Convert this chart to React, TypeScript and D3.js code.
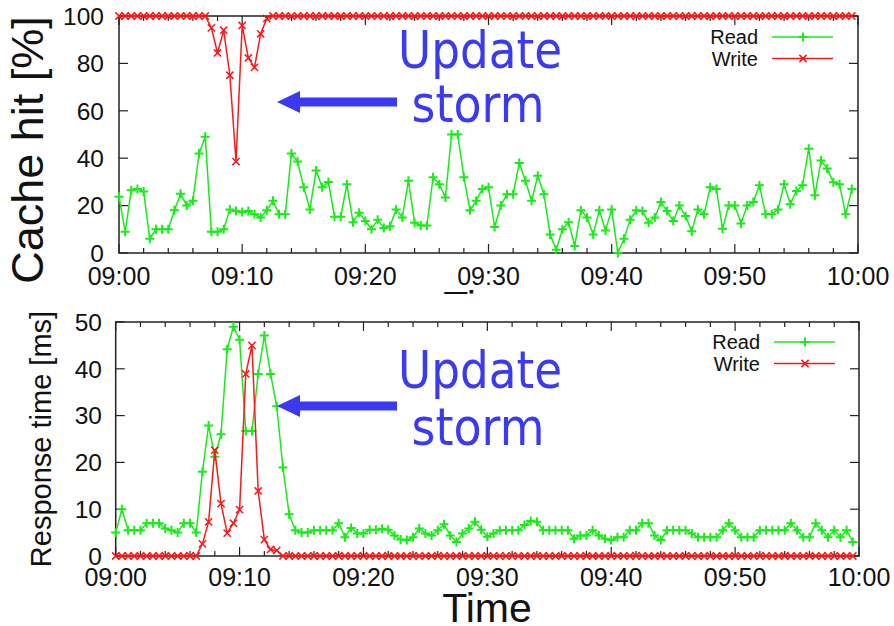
import React from "react";
import * as d3 from "d3";

const readHit = [
  23.7, 9, 26.5, 27, 26, 6, 10, 10, 10, 18,
  25, 20, 22, 42, 49, 9, 9, 10, 18.4, 17.7,
  17.3, 17.7, 16.3, 15, 18, 22, 16.3, 16.3, 42, 38.6,
  27.7, 18.4, 34.8, 27.7, 30, 15.3, 15.3, 29, 13, 17,
  13.5, 10, 14, 10.6, 11.3, 18.4, 15, 30.5, 12.8, 11.6,
  11.6, 32, 29, 23.4, 50, 50, 32, 18, 22, 27,
  27.7, 11, 20, 24.8, 24.8, 38, 30.5, 22, 32.6, 24.8,
  7.8, 1.4, 10, 13, 3, 18, 15, 7.8, 18, 9.5,
  18.4, 0, 6, 14, 18, 17.7, 12.8, 15, 21.5, 17.7,
  13.5, 20, 15.6, 9.2, 18.4, 16.3, 27.7, 27, 10.2, 20,
  20, 12.5, 20, 21.5, 28.6, 16.3, 16.3, 18.4, 29, 20.6,
  26.2, 28.6, 44, 24.4, 39, 35.7, 29.8, 29, 16.3, 27,
];

const writeHit = [
  100, 100, 100, 100, 100, 100, 100, 100, 100, 100,
  100, 100, 100, 100, 100, 95, 84.4, 94, 75, 38.6,
  96, 82.3, 78.3, 92.5, 99, 100, 100, 100, 100, 100,
  100, 100, 100, 100, 100, 100, 100, 100, 100, 100,
  100, 100, 100, 100, 100, 100, 100, 100, 100, 100,
  100, 100, 100, 100, 100, 100, 100, 100, 100, 100,
  100, 100, 100, 100, 100, 100, 100, 100, 100, 100,
  100, 100, 100, 100, 100, 100, 100, 100, 100, 100,
  100, 100, 100, 100, 100, 100, 100, 100, 100, 100,
  100, 100, 100, 100, 100, 100, 100, 100, 100, 100,
  100, 100, 100, 100, 100, 100, 100, 100, 100, 100,
  100, 100, 100, 100, 100, 100, 100, 100, 100, 100,
];

const readResp = [
  5, 10, 5.5, 5.5, 5.5, 7, 7, 7, 5.9, 5.5,
  5, 7, 7, 5, 18, 27.9, 21.2, 26, 44.2, 49,
  46.2, 26.7, 26.7, 38.9, 47.1, 38.9, 32, 18.9, 8.9, 5.5,
  5, 5, 5.5, 5.5, 5.5, 5.5, 7, 4, 6, 4.8,
  4.8, 5.6, 5.6, 5.8, 5.6, 4.4, 3.5, 3.4, 4, 5.9,
  4.8, 4.4, 5.5, 6.8, 4.4, 3, 4.8, 5.9, 7.3, 5.6,
  4.1, 4.8, 5.5, 5.5, 5.5, 5.5, 6.6, 7.5, 7.3, 5.5,
  5.5, 5.5, 5.5, 5.5, 3.7, 4.4, 4.4, 5.5, 4.4, 3.7,
  3.4, 4, 4, 5.5, 5.5, 7, 7, 4.4, 3.4, 5.5,
  5.5, 5.5, 5.5, 4.8, 4, 4, 4, 4, 5.5, 7,
  5.5, 4, 4, 4, 5.5, 5.5, 5.5, 5.5, 5.5, 7,
  5.5, 4, 4, 7, 5.5, 4, 5.5, 4, 5.5, 3,
];

const writeResp = [
  0, 0, 0, 0, 0, 0, 0, 0, 0, 0,
  0, 0, 0, 0, 2.6, 7.3, 22.6, 11.2, 4.9, 7,
  9.9, 38.9, 45, 13.9, 3.5, 1.4, 1.2, 0, 0, 0,
  0, 0, 0, 0, 0, 0, 0, 0, 0, 0,
  0, 0, 0, 0, 0, 0, 0, 0, 0, 0,
  0, 0, 0, 0, 0, 0, 0, 0, 0, 0,
  0, 0, 0, 0, 0, 0, 0, 0, 0, 0,
  0, 0, 0, 0, 0, 0, 0, 0, 0, 0,
  0, 0, 0, 0, 0, 0, 0, 0, 0, 0,
  0, 0, 0, 0, 0, 0, 0, 0, 0, 0,
  0, 0, 0, 0, 0, 0, 0, 0, 0, 0,
  0, 0, 0, 0, 0, 0, 0, 0, 0, 0,
];

const xTickMinutes = [0, 10, 20, 30, 40, 50, 60];
const xTickLabels = ["09:00", "09:10", "09:20", "09:30", "09:40", "09:50", "10:00"];
const hitTicks = [0, 20, 40, 60, 80, 100];
const respTicks = [0, 10, 20, 30, 40, 50];
const seriesNames = ["Read", "Write"];
const annotationLines = ["Update", "storm"];

const GREEN = "#14ee14";
const RED = "#ff1616";
const BLUE = "#3a3af2";
const AXIS = "#222";
const FONT = "'Liberation Sans', Arial, Helvetica, sans-serif";

type PanelProps = {
  left: number; right: number; top: number; bottom: number;
  yMax: number; yTicks: number[];
  read: number[]; write: number[];
  tickLabelBaseline: number; yLabelRight: number;
  legendX: number; legendY: number;
};

function Plus({ x, y }: { x: number; y: number }) {
  const s = 4.5;
  return <path d={`M${x - s},${y}H${x + s}M${x},${y - s}V${y + s}`} stroke={GREEN} strokeWidth={2} fill="none" />;
}
function Cross({ x, y }: { x: number; y: number }) {
  const s = 3.6;
  return <path d={`M${x - s},${y - s}L${x + s},${y + s}M${x - s},${y + s}L${x + s},${y - s}`} stroke={RED} strokeWidth={1.5} fill="none" />;
}

function Panel(p: PanelProps) {
  const x = d3.scaleLinear().domain([0, 60]).range([p.left, p.right]);
  const y = d3.scaleLinear().domain([0, p.yMax]).range([p.bottom, p.top]);
  const t = (i: number) => i * 0.5;
  const line = d3.line<number>().x((_, i) => x(t(i))).y((v) => y(v));
  const minor = d3.range(0, 61, 2);
  return (
    <g>
      <rect x={p.left} y={p.top} width={p.right - p.left} height={p.bottom - p.top} fill="none" stroke={AXIS} strokeWidth={1.5} />
      {minor.map((m) => {
        const major = m % 10 === 0;
        const len = major ? 9 : 5;
        return (
          <g key={m}>
            <line x1={x(m)} x2={x(m)} y1={p.bottom} y2={p.bottom - len} stroke={AXIS} strokeWidth={1.2} />
            <line x1={x(m)} x2={x(m)} y1={p.top} y2={p.top + len} stroke={AXIS} strokeWidth={1.2} />
          </g>
        );
      })}
      {p.yTicks.map((v) => (
        <g key={v}>
          <line x1={p.left} x2={p.left + 9} y1={y(v)} y2={y(v)} stroke={AXIS} strokeWidth={1.2} />
          <line x1={p.right} x2={p.right - 9} y1={y(v)} y2={y(v)} stroke={AXIS} strokeWidth={1.2} />
          <text x={p.yLabelRight} y={y(v)} dy="0.36em" textAnchor="end" fontSize={24.5} fontFamily={FONT} fill="#111">{v}</text>
        </g>
      ))}
      {xTickMinutes.map((m, k) => (
        <text key={m} x={x(m)} y={p.tickLabelBaseline} textAnchor="middle" fontSize={25} fontFamily={FONT} fill="#111">{xTickLabels[k]}</text>
      ))}
      <path d={line(p.read) || ""} fill="none" stroke={GREEN} strokeWidth={1.5} />
      {p.read.map((v, i) => <Plus key={i} x={x(t(i))} y={y(v)} />)}
      <path d={line(p.write) || ""} fill="none" stroke={RED} strokeWidth={1.5} />
      {p.write.map((v, i) => <Cross key={i} x={x(t(i))} y={y(v)} />)}
      {/* legend */}
      {seriesNames.map((name, k) => {
        const ly = p.legendY + k * 21.5;
        return (
          <g key={name}>
            <text x={p.legendX} y={ly} dy="0.36em" textAnchor="end" fontSize={20} fontFamily={FONT} fill="#111">{name}</text>
            <line x1={p.legendX + 14} x2={p.legendX + 75} y1={ly} y2={ly} stroke={k === 0 ? GREEN : RED} strokeWidth={1.5} />
            {k === 0 ? <Plus x={p.legendX + 45} y={ly} /> : <Cross x={p.legendX + 45} y={ly} />}
          </g>
        );
      })}
    </g>
  );
}

function Annotation({ textX, line1Y, line2Y, arrowY, tipX, tailX }: { textX: number; line1Y: number; line2Y: number; arrowY: number; tipX: number; tailX: number }) {
  const headLen = 23;
  const headHalf = 11;
  const shaft = 4.5;
  const d = `M${tipX},${arrowY} L${tipX + headLen},${arrowY - headHalf} L${tipX + headLen},${arrowY - shaft} L${tailX},${arrowY - shaft} L${tailX},${arrowY + shaft} L${tipX + headLen},${arrowY + shaft} L${tipX + headLen},${arrowY + headHalf} Z`;
  return (
    <g>
      <path d={d} fill={BLUE} />
      <text x={textX} y={line1Y} textAnchor="middle" fontSize={52} fontFamily="'DejaVu Sans', Verdana, sans-serif" fill={BLUE} textLength={164} lengthAdjust="spacingAndGlyphs">{annotationLines[0]}</text>
      <text x={textX - 2} y={line2Y} textAnchor="middle" fontSize={52} fontFamily="'DejaVu Sans', Verdana, sans-serif" fill={BLUE} textLength={133} lengthAdjust="spacingAndGlyphs">{annotationLines[1]}</text>
    </g>
  );
}

export default function App() {
  return (
    <svg width={894} height={626} viewBox="0 0 894 626" style={{ position: "absolute", left: 0, top: 0, background: "#fff" }}>
      <rect x={0} y={0} width={894} height={626} fill="#fff" />
      {/* top panel */}
      <Panel left={119} right={858} top={16} bottom={253} yMax={100} yTicks={hitTicks}
        read={readHit} write={writeHit} tickLabelBaseline={285} yLabelRight={104}
        legendX={758} legendY={37} />
      <text transform="translate(43,150) rotate(-90)" textAnchor="middle" fontSize={45} fontFamily={FONT} fill="#111">Cache hit [%]</text>
      <g clipPath="url(#clipTopTime)">
        <text x={488} y={320} textAnchor="middle" fontSize={41} fontFamily={FONT} fill="#111">Time</text>
      </g>
      <defs>
        <clipPath id="clipTopTime"><rect x={0} y={0} width={894} height={294} /></clipPath>
      </defs>
      {/* bottom panel */}
      <Panel left={115.7} right={859} top={322} bottom={556} yMax={50} yTicks={respTicks}
        read={readResp} write={writeResp} tickLabelBaseline={586} yLabelRight={102}
        legendX={760} legendY={342} />
      <text transform="translate(51,439) rotate(-90)" textAnchor="middle" fontSize={29} fontFamily={FONT} fill="#111">Response time [ms]</text>
      <text x={487} y={622} textAnchor="middle" fontSize={41} fontFamily={FONT} fill="#111">Time</text>
      <Annotation textX={480} line1Y={68} line2Y={122} arrowY={102} tipX={277} tailX={397} />
      <Annotation textX={480} line1Y={388} line2Y={445} arrowY={406} tipX={277} tailX={397} />
    </svg>
  );
}
